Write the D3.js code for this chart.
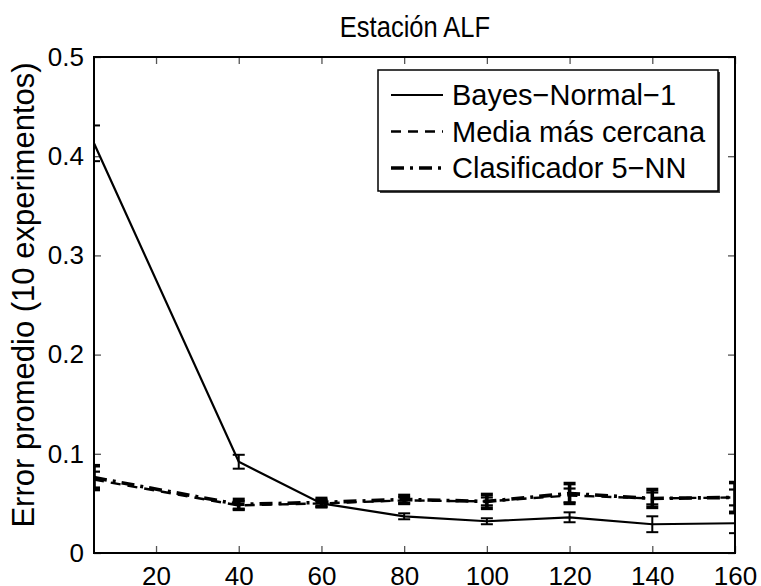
<!DOCTYPE html>
<html>
<head>
<meta charset="utf-8">
<script src="https://cdn.jsdelivr.net/npm/d3@7"></script>
<style>
  body { margin: 0; background: #fff; }
  svg { display: block; font-family: "Liberation Sans", Arial, sans-serif; }
  .tick text { fill: #000; }
</style>
</head>
<body>
<svg width="761" height="586"></svg>
<script>
// tamaños de entrenamiento
var xVals = [5, 40, 60, 80, 100, 120, 140, 160];

// error promedio por clasificador
var bayes = [0.413, 0.092, 0.050, 0.037, 0.032, 0.036, 0.029, 0.030];
var bayesErr = [0.018, 0.007, 0.003, 0.003, 0.003, 0.005, 0.008, 0.010];
var media = [0.074, 0.048, 0.050, 0.053, 0.052, 0.058, 0.055, 0.056];
var mediaErr = [0.008, 0.004, 0.004, 0.003, 0.004, 0.007, 0.006, 0.008];
var knn = [0.076, 0.049, 0.051, 0.054, 0.052, 0.060, 0.055, 0.056];
var knnErr = [0.012, 0.005, 0.004, 0.004, 0.007, 0.010, 0.009, 0.015];

var xTicks = [20, 40, 60, 80, 100, 120, 140, 160];
var yTicks = [0, 0.1, 0.2, 0.3, 0.4, 0.5];
var yTickLabels = ["0", "0.1", "0.2", "0.3", "0.4", "0.5"];
var seriesNames = ["Bayes\u2212Normal\u22121", "Media m\u00e1s cercana", "Clasificador 5\u2212NN"];

var svg = d3.select("svg"),
  margin = { top: 57, right: 26, bottom: 33, left: 94 };

var width = 761 - margin.left - margin.right,
  height = 586 - margin.top - margin.bottom;

var g = svg.append("g")
  .attr("transform", "translate(" + margin.left + "," + margin.top + ")");

var x = d3.scaleLinear().domain([5, 160]).range([0, width]);
var y = d3.scaleLinear().domain([0, 0.5]).range([height, 0]);

// clip al area del grafico
svg.append("defs").append("clipPath").attr("id", "plot")
  .append("rect").attr("width", width).attr("height", height);

// ejes (ticks hacia dentro, estilo matlab)
var xAxis = d3.axisBottom(x).tickValues(xTicks).tickSize(-7).tickPadding(13).tickSizeOuter(0);
var yAxis = d3.axisLeft(y).tickValues(yTicks).tickSize(-7).tickPadding(10).tickSizeOuter(0)
  .tickFormat(function(d, i) { return yTickLabels[i]; });

g.append("g").attr("transform", "translate(0," + height + ")").call(xAxis)
  .call(function(a) { a.selectAll("text").attr("font-size", 26).attr("dy", "0.72em"); });
g.append("g").call(yAxis)
  .call(function(a) { a.selectAll("text").attr("font-size", 26); });
g.append("g").call(d3.axisTop(x).tickValues(xTicks).tickSize(-7).tickFormat("").tickSizeOuter(0));
g.append("g").attr("transform", "translate(" + width + ",0)")
  .call(d3.axisRight(y).tickValues(yTicks).tickSize(-7).tickFormat("").tickSizeOuter(0));

g.selectAll(".domain").remove();
g.selectAll(".tick line").attr("stroke", "#555").attr("stroke-width", 1.3);

g.append("rect")
  .attr("width", width).attr("height", height)
  .attr("fill", "none").attr("stroke", "#000").attr("stroke-width", 2);

var series = [
  { vals: bayes, err: bayesErr, dash: null, w: 2.2, ew: 2 },
  { vals: media, err: mediaErr, dash: "10,7", w: 2.4, ew: 2.2 },
  { vals: knn, err: knnErr, dash: "13,6,3,6", w: 3.6, ew: 3.6 }
];

var line = d3.line()
  .x(function(d) { return x(d[0]); })
  .y(function(d) { return y(d[1]); });

var plot = g.append("g").attr("clip-path", "url(#plot)");

series.forEach(function(s) {
  var pts = xVals.map(function(v, i) { return [v, s.vals[i]]; });
  plot.append("path")
    .attr("d", line(pts))
    .attr("fill", "none")
    .attr("stroke", "#000")
    .attr("stroke-width", s.w)
    .attr("stroke-dasharray", s.dash);

  var eb = plot.append("g").selectAll("g").data(xVals).enter().append("g");
  eb.append("line")
    .attr("x1", function(d) { return x(d); })
    .attr("x2", function(d) { return x(d); })
    .attr("y1", function(d, i) { return y(s.vals[i] - s.err[i]); })
    .attr("y2", function(d, i) { return y(s.vals[i] + s.err[i]); })
    .attr("stroke", "#000").attr("stroke-width", s.ew);
  [-1, 1].forEach(function(sign) {
    eb.append("line")
      .attr("x1", function(d) { return x(d) - 6; })
      .attr("x2", function(d) { return x(d) + 6; })
      .attr("y1", function(d, i) { return y(s.vals[i] + sign * s.err[i]); })
      .attr("y2", function(d, i) { return y(s.vals[i] + sign * s.err[i]); })
      .attr("stroke", "#000").attr("stroke-width", s.ew);
  });
});

// titulo y etiqueta del eje y
svg.append("text")
  .attr("x", 415).attr("y", 37)
  .attr("text-anchor", "middle")
  .attr("font-size", 29)
  .attr("transform", "translate(415,0) scale(0.88,1) translate(-415,0)")
  .text("Estaci\u00f3n ALF");

svg.append("text")
  .attr("transform", "translate(34,295) rotate(-90)")
  .attr("text-anchor", "middle")
  .attr("font-size", 31)
  .text("Error promedio (10 experimentos)");

// leyenda
var leg = svg.append("g").attr("transform", "translate(378,70)");
leg.append("rect").attr("x", 2).attr("y", 2).attr("width", 340).attr("height", 121).attr("fill", "#444");
leg.append("rect").attr("width", 340).attr("height", 121)
  .attr("fill", "#fff").attr("stroke", "#000").attr("stroke-width", 1.5);

var rows = leg.selectAll("g.row").data(series).enter().append("g")
  .attr("class", "row")
  .attr("transform", function(d, i) { return "translate(0," + (25 + i * 36.5) + ")"; });
rows.append("line")
  .attr("x1", 13).attr("x2", 65)
  .attr("stroke", "#000")
  .attr("stroke-width", function(d) { return d.w; })
  .attr("stroke-dasharray", function(d) { return d.dash; });
rows.append("text")
  .attr("x", 74).attr("y", 10)
  .attr("font-size", 29)
  .text(function(d, i) { return seriesNames[i]; });
</script>
</body>
</html>
